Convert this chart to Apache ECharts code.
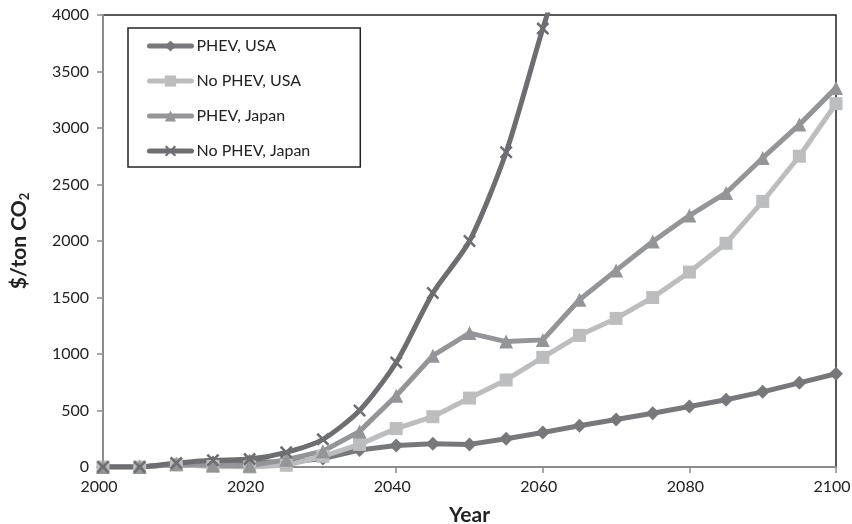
<!DOCTYPE html>
<html>
<head>
<meta charset="utf-8">
<script src="https://cdn.jsdelivr.net/npm/echarts@6/dist/echarts.min.js"></script>
<style>
html,body{margin:0;padding:0;background:#fff;}
#chart{width:852px;height:524px;}
</style>
</head>
<body>
<div id="chart"></div>
<script>
// ---- data ----
var years = [2000,2005,2010,2015,2020,2025,2030,2035,2040,2045,2050,2055,2060,2065,2070,2075,2080,2085,2090,2095,2100];
var phevUSA    = [0,0,25,40,50,40,75,150,190,205,200,250,305,365,420,475,535,595,665,745,825];
var noPhevUSA  = [0,0,20,5,0,15,95,200,340,445,610,770,970,1165,1315,1500,1725,1980,2350,2750,3215];
var phevJapan  = [0,0,25,15,10,65,140,315,630,985,1185,1110,1125,1480,1740,1995,2225,2425,2735,3030,3355];
var noPhevJapan= [0,0,35,60,70,130,245,500,925,1540,2000,2785,3880,4900,null,null,null,null,null,null,null];
var seriesNames = ['PHEV, USA','No PHEV, USA','PHEV, Japan','No PHEV, Japan'];
var yTicks = {min:0, max:4000, interval:500};
var xTicks = {min:2000, max:2100, interval:20};

function pairs(vals){ return years.map(function(y,i){ return [y, vals[i]]; }); }

var xMark = 'path://M0,1.4L1.4,0L5,3.6L8.6,0L10,1.4L6.4,5L10,8.6L8.6,10L5,6.4L1.4,10L0,8.6L3.6,5Z';
var fontFam = 'Lato, "Open Sans", sans-serif';

function mk(name, vals, color, symbol, size, smooth){
  return {
    name: name, type: 'line', data: pairs(vals),
    symbol: symbol, symbolSize: size, smooth: smooth || false,
    connectNulls: false, clip: true,
    lineStyle: {color: color, width: 5, cap: 'round', join: 'round'},
    itemStyle: {color: color},
    emphasis: {disabled: true}
  };
}

var chart = echarts.init(document.getElementById('chart'), null, {renderer:'canvas'});
chart.setOption({
  animation: false,
  backgroundColor: '#fff',
  grid: {left: 103, right: 16, top: 15, bottom: 57, show: true, borderColor: '#222', borderWidth: 1.5,
         backgroundColor: 'transparent', containLabel: false, outerBoundsMode: 'none'},
  legend: {
    orient: 'vertical', left: 128, top: 28,
    data: seriesNames,
    itemWidth: 42, itemHeight: 14, itemGap: 17,
    padding: [9, 50, 7, 19],
    borderColor: '#222', borderWidth: 1.5,
    backgroundColor: '#fff',
    lineStyle: {width: 5, cap: 'round'},
    textStyle: {fontFamily: fontFam, fontSize: 16, lineHeight: 18, color: '#222'}
  },
  xAxis: {
    type: 'value', min: xTicks.min, max: xTicks.max, interval: xTicks.interval,
    name: 'Year', nameLocation: 'middle', nameGap: 38,
    nameTextStyle: {fontFamily: fontFam, fontSize: 21, fontWeight: 'bold', color: '#222'},
    axisLine: {show: true, lineStyle: {color: '#8c8c8c', width: 2}},
    axisTick: {show: true, length: 6, lineStyle: {color: '#8c8c8c', width: 1.5}},
    axisLabel: {fontFamily: fontFam, fontSize: 16, color: '#222', margin: 12,
      formatter: function(v){ return '{t|' + v + '}'; },
      rich: {t: {fontFamily: fontFam, fontSize: 16, color: '#222', padding: [0, 8, 0, 0]}}},
    splitLine: {show: false}
  },
  yAxis: {
    type: 'value', min: yTicks.min, max: yTicks.max, interval: yTicks.interval,
    name: '$/ton CO{sub|2}', nameLocation: 'middle', nameGap: 72, nameRotate: 90,
    nameTextStyle: {fontFamily: fontFam, fontSize: 21, fontWeight: 'bold', color: '#222',
      rich: {sub: {fontFamily: fontFam, fontSize: 13, fontWeight: 'bold', color: '#222', verticalAlign: 'bottom', padding: [10,0,0,0]}}},
    axisLine: {show: true, lineStyle: {color: '#8c8c8c', width: 2}},
    axisTick: {show: true, length: 6, lineStyle: {color: '#8c8c8c', width: 1.5}},
    axisLabel: {fontFamily: fontFam, fontSize: 16, color: '#222', margin: 14, formatter: function(v){return String(v);}},
    splitLine: {show: false}
  },
  series: [
    mk(seriesNames[0], phevUSA, '#77787b', 'diamond', 14),
    mk(seriesNames[1], noPhevUSA, '#bcbdbf', 'rect', 13),
    mk(seriesNames[2], phevJapan, '#939598', 'triangle', 14),
    mk(seriesNames[3], noPhevJapan, '#6d6e71', xMark, 13, 0.25)
  ]
});
</script>
</body>
</html>
